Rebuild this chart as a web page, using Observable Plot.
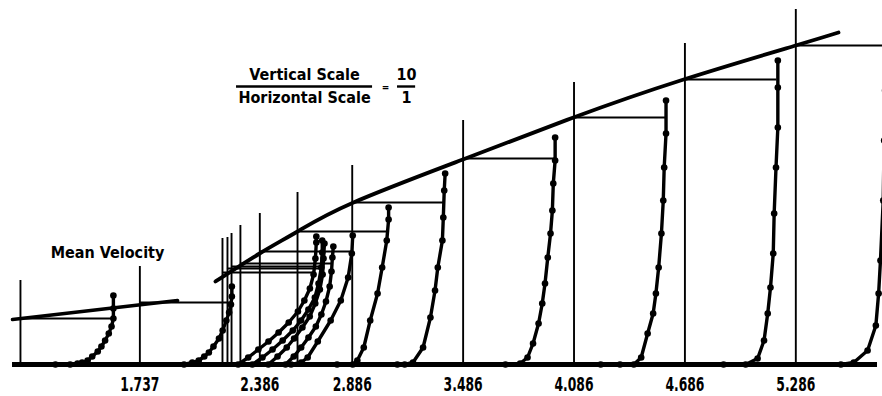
<!DOCTYPE html>
<html><head><meta charset="utf-8">
<script src="https://cdn.jsdelivr.net/npm/d3@7"></script>
<script src="https://cdn.jsdelivr.net/npm/@observablehq/plot@0.6"></script>
<style>
html,body{margin:0;padding:0;background:#fff;}
#chart svg{display:block;}
</style></head><body><div id="chart"></div>
<script>
// Axis tick values and labels (station positions)
const tickValues = [1.737, 2.386, 2.886, 3.486, 4.086, 4.686, 5.286];
const tickLabels = ["1.737", "2.386", "2.886", "3.486", "4.086", "4.686", "5.286"];

// Measuring stations, boundary-layer thickness at each, and height of each station line
const stations      = [1.091, 1.737, 2.184, 2.211, 2.233, 2.281, 2.386, 2.590, 2.886, 3.486, 4.086, 4.686, 5.286];
const deltaHeights  = [46, 62, 92, 96, 98, 101, 113, 133, 162, 206, 247, 285, 319];
const stationTops   = [84, 98, 126, 127, 131, 139, 151, 172, 199, 244, 282, 321, 355];

// Boundary-layer edge envelope (upper) and mean-velocity line (lower left)
const envelopeX = [2.146, 2.385, 2.590, 2.893, 3.499, 4.083, 4.679, 5.285, 5.517];
const envelopeH = [83, 111, 133, 162, 206, 247, 285, 319, 332];
const meanVelX = [1.048, 1.941];
const meanVelH = [45, 64];

// Drawn length of free-stream velocity (u/Ue = 1), in axis units
const velocityScale = 0.4978;
const baselineExtent = [1.048, 5.728];

// Velocity profiles: u/Ue and height, one pair of arrays per station
const p1091_u = [0.38,0.54,0.62,0.67,0.73,0.78,0.84,0.88,0.92,0.96,0.99,1.01,1.01,1.01];
const p1091_h = [0,0,1,2,4,8,13,18,24,31,38,46,56,69];
const p1737_u = [0.48,0.57,0.64,0.70,0.75,0.80,0.86,0.90,0.94,0.97,0.99,1.0,1.0];
const p1737_h = [0,2,4,8,12,18,26,34,44,52,60,68,78];
const p2184_u = [0.17,0.28,0.39,0.50,0.61,0.72,0.82,0.89,0.95,0.99,1.01,1.02,1.02];
const p2184_h = [0,7,15,23,32,42,53,64,76,90,106,122,128];
const p2211_u = [0.27,0.38,0.49,0.60,0.71,0.80,0.88,0.95,0.99,1.02,1.03,1.03];
const p2211_h = [0,7,15,24,34,44,55,67,81,97,112,124];
const p2233_u = [0.40,0.50,0.60,0.68,0.77,0.85,0.91,0.96,0.99,1.0,1.01];
const p2233_h = [0,8,17,26,37,48,61,75,90,106,121];
const p2281_u = [0.49,0.58,0.66,0.74,0.82,0.88,0.93,0.97,0.99,1.0,1.01];
const p2281_h = [0,8,17,27,38,50,63,78,93,107,118];
const p2386_u = [0.34,0.45,0.52,0.63,0.77,0.88,0.96,1.0,1.01];
const p2386_h = [0,2,7,23,44,64,87,111,129];
const p2590_u = [0.43,0.60,0.65,0.72,0.79,0.87,0.92,0.97,0.99,0.99];
const p2590_h = [0,0,4,17,44,71,97,124,145,157];
const p2886_u = [0.49,0.57,0.66,0.77,0.85,0.90,0.93,0.98,0.99,1.0,1.01];
const p2886_h = [0,0,2,17,47,74,97,124,147,174,191];
const p3486_u = [0.46,0.62,0.70,0.76,0.82,0.86,0.89,0.92,0.95,0.97,0.98,1.0,1.0];
const p3486_h = [0,1,7,21,41,61,81,107,131,154,181,204,227];
const p4086_u = [0.29,0.50,0.65,0.73,0.80,0.86,0.89,0.92,0.95,0.97,0.98,1.0,1.0];
const p4086_h = [0,0,0,7,31,51,71,97,131,164,197,231,264];
const p4686_u = [0.42,0.66,0.79,0.86,0.90,0.93,0.96,0.97,0.99,1.01,1.01,1.01];
const p4686_h = [0,0,6,24,51,77,111,151,197,237,277,304];
const p5286_u = [0.49,0.63,0.78,0.87,0.90,0.92,0.95,0.96,0.97,0.98];
const p5286_h = [0,2,14,39,71,104,164,224,274,319];

const profileU = [p1091_u,p1737_u,p2184_u,p2211_u,p2233_u,p2281_u,p2386_u,p2590_u,p2886_u,p3486_u,p4086_u,p4686_u,p5286_u];
const profileH = [p1091_h,p1737_h,p2184_h,p2211_h,p2233_h,p2281_h,p2386_h,p2590_h,p2886_h,p3486_h,p4086_h,p4686_h,p5286_h];

// Build tables
const profilePts = stations.flatMap((s, i) =>
  profileU[i].map((u, j) => ({station: s, x: s + u * velocityScale, h: profileH[i][j]})));
const stationRows = stations.map((s, i) => ({s, top: stationTops[i], d: deltaHeights[i], x2: s + velocityScale}));
const envelope = envelopeX.map((x, i) => ({x, h: envelopeH[i]}));
const meanVel = meanVelX.map((x, i) => ({x, h: meanVelH[i]}));

const FONT = "'Liberation Sans Narrow', 'DejaVu Sans Condensed', sans-serif";

const chart = Plot.plot({
  width: 882,
  height: 396,
  marginTop: 0, marginRight: 0, marginBottom: 32, marginLeft: 0,
  x: {domain: [0.983, 5.755], axis: null},
  y: {domain: [0, 364], axis: null},
  style: {background: "#fff", color: "#000", fontFamily: FONT},
  marks: [
    // station verticals
    Plot.ruleX(stationRows, {x: "s", y1: 0, y2: "top", stroke: "#000", strokeWidth: 1.9}),
    // boundary-layer thickness markers
    Plot.ruleY(stationRows, {x1: "s", x2: "x2", y: "d", stroke: "#000", strokeWidth: 1.8}),
    // envelopes
    Plot.line(envelope, {x: "x", y: "h", stroke: "#000", strokeWidth: 3.8, curve: "natural"}),
    Plot.line(meanVel, {x: "x", y: "h", stroke: "#000", strokeWidth: 3.6}),
    // profiles
    Plot.line(profilePts, {x: "x", y: "h", z: "station", stroke: "#000", strokeWidth: 3.4}),
    Plot.dot(profilePts, {x: "x", y: "h", r: 3.3, fill: "#000", stroke: "none"}),
    // baseline
    Plot.ruleY([0], {x1: baselineExtent[0], x2: baselineExtent[1], stroke: "#000", strokeWidth: 5}),
    // tick labels
    Plot.axisX(tickValues, {
      tickSize: 0, tickPadding: 12,
      tickFormat: d => tickLabels[tickValues.indexOf(d)],
      fontSize: 20, fontWeight: "bold", fontFamily: FONT, fill: "#000"
    }),
    // annotations
    Plot.text(["Mean Velocity"], {x: 1.562, y: 112, text: d => d, fontSize: 16, fontWeight: "bold", fill: "#000"}),
    Plot.text(["Vertical Scale"], {x: 2.628, y: 289.5, text: d => d, fontSize: 16, fontWeight: "bold", fill: "#000"}),
    Plot.text(["Horizontal Scale"], {x: 2.628, y: 266.5, text: d => d, fontSize: 16, fontWeight: "bold", fill: "#000"}),
    Plot.ruleY([278], {x1: 2.260, x2: 2.996, stroke: "#000", strokeWidth: 2.4}),
    Plot.text(["="], {x: 3.066, y: 277, text: d => d, fontSize: 10, fontWeight: "bold", fill: "#000"}),
    Plot.text(["10"], {x: 3.180, y: 289.5, text: d => d, fontSize: 16, fontWeight: "bold", fill: "#000"}),
    Plot.ruleY([278], {x1: 3.131, x2: 3.229, stroke: "#000", strokeWidth: 2.4}),
    Plot.text(["1"], {x: 3.180, y: 266.5, text: d => d, fontSize: 16, fontWeight: "bold", fill: "#000"})
  ]
});
// narrow, tall tick digits like the original typewriter labels
d3.select(chart).selectAll("g[aria-label='x-axis tick label'] text")
  .attr("textLength", 39).attr("lengthAdjust", "spacingAndGlyphs");
document.getElementById("chart").appendChild(chart);
</script></body></html>
